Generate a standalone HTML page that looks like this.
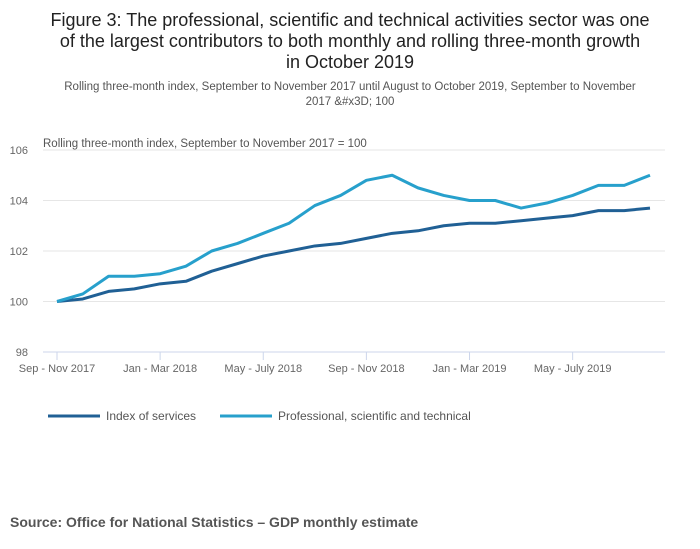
<!DOCTYPE html>
<html><head><meta charset="utf-8"><style>
body{margin:0;background:#fff;font-family:"Liberation Sans",sans-serif;}
#wrap{position:relative;width:700px;height:549px;overflow:hidden;}
</style></head><body>
<div id="wrap">
<svg id="chart" width="700" height="549">
<text x="350" y="26" font-size="18" fill="#222" text-anchor="middle">Figure 3: The professional, scientific and technical activities sector was one</text>
<text x="350" y="47" font-size="18" fill="#222" text-anchor="middle">of the largest contributors to both monthly and rolling three-month growth</text>
<text x="350" y="68" font-size="18" fill="#222" text-anchor="middle">in October 2019</text>
<text x="350" y="90" font-size="11.5" fill="#555" text-anchor="middle">Rolling three-month index, September to November 2017 until August to October 2019, September to November</text>
<text x="350" y="105" font-size="11.5" fill="#555" text-anchor="middle">2017 &amp;#x3D; 100</text>
<text x="43" y="147" font-size="11.5" fill="#555">Rolling three-month index, September to November 2017 = 100</text>
<g id="grid"></g><g id="series"></g>
<text x="10" y="527" font-size="14" font-weight="bold" fill="#555">Source: Office for National Statistics – GDP monthly estimate</text>
</svg>
</div>
<script>
const categories=["Sep - Nov 2017","Oct - Dec 2017","Nov - Jan 2018","Dec - Feb 2018","Jan - Mar 2018","Feb - Apr 2018","Mar - May 2018","Apr - Jun 2018","May - July 2018","Jun - Aug 2018","Jul - Sep 2018","Aug - Oct 2018","Sep - Nov 2018","Oct - Dec 2018","Nov - Jan 2019","Dec - Feb 2019","Jan - Mar 2019","Feb - Apr 2019","Mar - May 2019","Apr - Jun 2019","May - July 2019","Jun - Aug 2019","Jul - Sep 2019","Aug - Oct 2019"];
const indexOfServices=[100,100.1,100.4,100.5,100.7,100.8,101.2,101.5,101.8,102,102.2,102.3,102.5,102.7,102.8,103,103.1,103.1,103.2,103.3,103.4,103.6,103.6,103.7];
const professional=[100,100.3,101,101,101.1,101.4,102,102.3,102.7,103.1,103.8,104.2,104.8,105,104.5,104.2,104,104,103.7,103.9,104.2,104.6,104.6,105];
const yTicks=[98,100,102,104,106];
const xLabelEvery=4;
const NS="http://www.w3.org/2000/svg";
const x0=57,x1=650,yTop=150,yBot=352,yMin=98,yMax=106;
const xs=i=>x0+(x1-x0)*i/(categories.length-1);
const ys=v=>yBot-(v-yMin)/(yMax-yMin)*(yBot-yTop);
const grid=document.getElementById('grid'),ser=document.getElementById('series');
function mk(tag,attrs,parent){const e=document.createElementNS(NS,tag);for(const k in attrs)e.setAttribute(k,attrs[k]);parent.appendChild(e);return e;}
yTicks.forEach(t=>{
  const l=mk('line',{x1:43,x2:665,y1:ys(t),y2:ys(t),stroke:t===yMin?'#ccd6eb':'#e6e6e6','stroke-width':1},grid);
  
  
  const tx=mk('text',{x:28,y:ys(t)+4,'font-size':11,fill:'#666','text-anchor':'end'},grid);
  tx.textContent=t;
  
  
});
categories.forEach((c,i)=>{
  if(i%xLabelEvery)return;
  const tk=mk('line',{x1:xs(i),x2:xs(i),y1:yBot,y2:yBot+8,stroke:'#ccd6eb'},grid);
  
  
  const tx=mk('text',{x:xs(i),y:yBot+20,'font-size':11,fill:'#666','text-anchor':'middle'},grid);
  tx.textContent=c;
  
  
});
function line(vals,color,name){
  const p=mk('polyline',{points:vals.map((v,i)=>xs(i)+','+ys(v)).join(' '),fill:'none',stroke:color,'stroke-width':3,'stroke-linejoin':'round'},ser);
  
  
}
line(indexOfServices,'#206095','line-index-of-services');
line(professional,'#27a0cc','line-professional');
function legend(x,color,label,name){
  const l=mk('line',{x1:x,x2:x+52,y1:416,y2:416,stroke:color,'stroke-width':3},ser);
  
  
  const t=mk('text',{x:x+58,y:420,'font-size':12,fill:'#555'},ser);
  t.textContent=label;
  
  
}
legend(48,'#206095','Index of services','legend-entry-index');
legend(220,'#27a0cc','Professional, scientific and technical','legend-entry-professional');
</script>
</body></html>
